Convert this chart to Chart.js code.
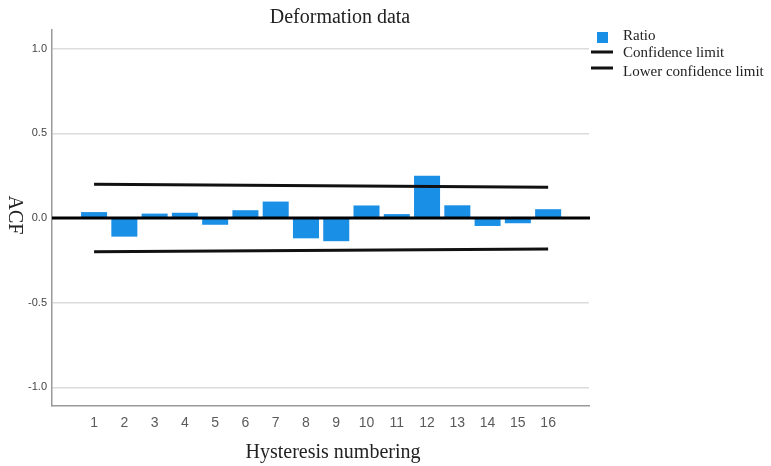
<!DOCTYPE html>
<html>
<head>
<meta charset="utf-8">
<title>Deformation data</title>
<script src="https://cdn.jsdelivr.net/npm/chart.js@4.4.1/dist/chart.umd.min.js"></script>
<style>
  html, body { margin: 0; padding: 0; background: #ffffff; }
  #wrap { width: 771px; height: 466px; position: relative; }
</style>
</head>
<body>
<div id="wrap"><canvas id="acf" width="771" height="466"></canvas></div>
<script>
// Lag numbers and autocorrelation values
const lags = [1, 2, 3, 4, 5, 6, 7, 8, 9, 10, 11, 12, 13, 14, 15, 16];
const acfValues = [0.035, -0.11, 0.026, 0.031, -0.04, 0.046, 0.097, -0.12, -0.137, 0.074, 0.023, 0.25, 0.075, -0.047, -0.031, 0.052];

// Confidence limits at the first and last lag
const limitLags = [1, 16];
const upperLimit = [0.200, 0.181];
const lowerLimit = [-0.199, -0.183];

// Axis ticks
const yTickValues = [-1.0, -0.5, 0.0, 0.5, 1.0];
const xTickValues = lags;

const serif = '"Liberation Serif", "DejaVu Serif", serif';
const sans = '"Liberation Sans", Arial, sans-serif';
const barBlue = '#1a8fe6';

const seriesLabels = ['Ratio', 'Confidence limit', 'Lower confidence limit'];

// Titles, zero reference line and legend
const decorations = {
  id: 'decorations',
  afterDatasetsDraw(chart) {
    const { ctx, chartArea, scales } = chart;
    const y0 = scales.y.getPixelForValue(0);
    ctx.save();
    ctx.strokeStyle = '#000';
    ctx.lineWidth = 3;
    ctx.beginPath();
    ctx.moveTo(chartArea.left, y0);
    ctx.lineTo(chartArea.right + 1, y0);
    ctx.stroke();
    ctx.restore();
  },
  afterDraw(chart) {
    const { ctx } = chart;
    ctx.save();
    ctx.fillStyle = '#222';
    ctx.textAlign = 'center';
    ctx.textBaseline = 'middle';
    ctx.font = '20px ' + serif;
    ctx.fillText('Deformation data', 340, 18);
    ctx.fillText('Hysteresis numbering', 333, 453);

    ctx.save();
    ctx.translate(14, 215);
    ctx.rotate(Math.PI / 2);
    ctx.fillText('ACF', 0, 0);
    ctx.restore();

    // legend
    ctx.textAlign = 'left';
    ctx.font = '15px ' + serif;
    ctx.fillStyle = barBlue;
    ctx.fillRect(597, 32, 11, 11);
    ctx.strokeStyle = '#111';
    ctx.lineWidth = 3;
    ctx.beginPath();
    ctx.moveTo(591, 52); ctx.lineTo(613, 52);
    ctx.moveTo(591, 68); ctx.lineTo(613, 68);
    ctx.stroke();
    ctx.fillStyle = '#222';
    ctx.fillText(seriesLabels[0], 623, 36);
    ctx.fillText(seriesLabels[1], 623, 53);
    ctx.fillText(seriesLabels[2], 623, 72);
    ctx.restore();
  }
};

new Chart(document.getElementById('acf'), {
  data: {
    datasets: [
      {
        type: 'line',
        label: seriesLabels[1],
        data: limitLags.map((x, i) => ({ x, y: upperLimit[i] })),
        borderColor: '#111',
        borderWidth: 3,
        pointRadius: 0,
        tension: 0,
        order: 0
      },
      {
        type: 'line',
        label: seriesLabels[2],
        data: limitLags.map((x, i) => ({ x, y: lowerLimit[i] })),
        borderColor: '#111',
        borderWidth: 3,
        pointRadius: 0,
        tension: 0,
        order: 0
      },
      {
        type: 'bar',
        label: seriesLabels[0],
        data: lags.map((x, i) => ({ x, y: acfValues[i] })),
        backgroundColor: barBlue,
        borderWidth: 0,
        barPercentage: 0.86,
        categoryPercentage: 1.0,
        order: 1
      }
    ]
  },
  options: {
    responsive: false,
    devicePixelRatio: 1,
    animation: false,
    layout: { padding: { left: 0, top: 30, right: 182, bottom: 0 } },
    plugins: {
      legend: { display: false },
      title: { display: false },
      tooltip: { enabled: false }
    },
    scales: {
      x: {
        type: 'linear',
        offset: false,
        min: -0.39,
        max: 17.35,
        afterBuildTicks: (axis) => { axis.ticks = xTickValues.map(v => ({ value: v })); },
        afterFit: (axis) => { axis.height = 60; },
        grid: { display: false, drawTicks: false, offset: false },
        border: { display: true, color: '#9a9a9a', width: 1.5 },
        ticks: {
          autoSkip: false,
          maxRotation: 0,
          padding: 9,
          color: '#5a5a5a',
          font: { family: sans, size: 14 },
          callback: (v) => String(v)
        }
      },
      y: {
        type: 'linear',
        min: -1.11,
        max: 1.11,
        afterBuildTicks: (axis) => { axis.ticks = yTickValues.map(v => ({ value: v })); },
        afterFit: (axis) => { axis.width = 52; },
        grid: {
          color: (c) => (c.tick && c.tick.value === 0 ? 'rgba(0,0,0,0)' : '#dcdcdc'),
          lineWidth: 1.5,
          drawTicks: false
        },
        border: { display: true, color: '#9a9a9a', width: 1.5 },
        ticks: {
          padding: 5,
          color: '#444',
          font: { family: sans, size: 11 },
          callback: (v) => Number(v).toFixed(1)
        }
      }
    }
  },
  plugins: [decorations]
});
</script>
</body>
</html>
